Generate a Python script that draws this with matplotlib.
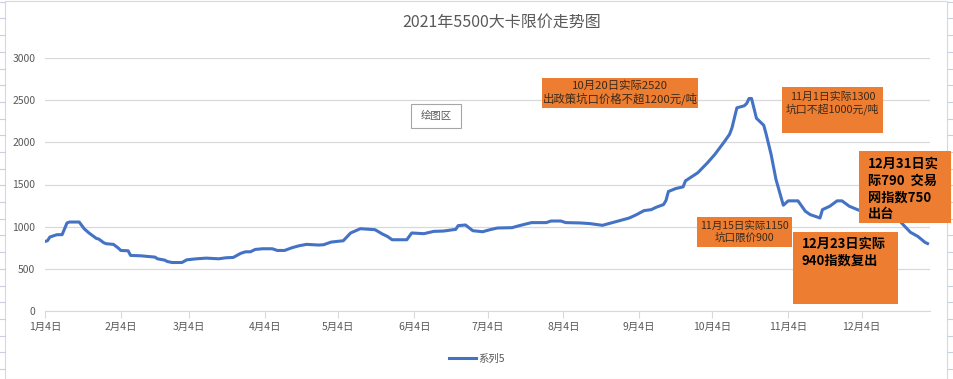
import matplotlib
matplotlib.use("Agg")
import matplotlib.pyplot as plt
from matplotlib.patches import Rectangle
from matplotlib.lines import Line2D
import pandas as pd

plt.rcParams['font.family'] = ['Noto Sans CJK SC', 'DejaVu Sans']

# price series
dates = ["01-04", "01-05", "01-06", "01-08", "01-09", "01-11", "01-13", "01-14", "01-18", "01-20",
         "01-22", "01-25", "01-26", "01-28", "01-29", "02-01", "02-03", "02-04", "02-07", "02-08",
         "02-12", "02-18", "02-19", "02-22", "02-23", "02-25", "03-01", "03-03", "03-07", "03-11",
         "03-16", "03-19", "03-22", "03-25", "03-27", "03-29", "03-31", "04-03", "04-07", "04-09",
         "04-12", "04-15", "04-18", "04-21", "04-26", "04-28", "05-01", "05-06", "05-09", "05-13",
         "05-19", "05-22", "05-24", "05-26", "06-01", "06-03", "06-08", "06-12", "06-16", "06-21",
         "06-22", "06-25", "06-28", "07-02", "07-05", "07-08", "07-14", "07-17", "07-22", "07-28",
         "07-30", "08-03", "08-05", "08-11", "08-15", "08-20", "08-26", "08-31", "09-03", "09-06",
         "09-09", "09-11", "09-14", "09-15", "09-16", "09-19", "09-22", "09-23", "09-28", "10-02",
         "10-05", "10-09", "10-11", "10-12", "10-14", "10-17", "10-18", "10-19", "10-20", "10-22",
         "10-25", "10-26", "10-28", "10-30", "11-02", "11-04", "11-08", "11-11", "11-13", "11-17",
         "11-18", "11-21", "11-24", "11-26", "11-29", "12-03", "12-12", "12-18", "12-20", "12-24",
         "12-27", "12-30", "12-31"]
prices = [825, 833, 877, 897, 905, 905, 1044, 1055, 1055, 976,
          925, 861, 853, 810, 798, 790, 746, 718, 714, 659,
          655, 639, 619, 603, 587, 575, 575, 607, 619, 627,
          619, 631, 635, 683, 702, 702, 730, 738, 738, 718,
          718, 750, 774, 790, 782, 786, 817, 833, 925, 976,
          964, 913, 885, 845, 845, 925, 917, 944, 948, 968,
          1012, 1020, 952, 940, 964, 984, 988, 1012, 1048, 1048,
          1067, 1067, 1048, 1044, 1036, 1016, 1063, 1103, 1143, 1190,
          1202, 1230, 1262, 1310, 1417, 1452, 1472, 1544, 1639, 1758,
          1857, 2012, 2095, 2171, 2409, 2433, 2460, 2520, 2520, 2286,
          2202, 2095, 1857, 1560, 1254, 1306, 1306, 1183, 1143, 1103,
          1202, 1242, 1306, 1306, 1242, 1194, 1162, 1110, 1055, 933,
          885, 813, 800]
series_name = "系列5"
title = "2021年5500大卡限价走势图"
tick_months = list(range(1, 13))

notes_small = ["10月20日实际2520\n出政策坑口价格不超1200元/吨",
               "11月1日实际1300\n坑口不超1000元/吨",
               "11月15日实际1150\n坑口限价900"]
notes_bold = ["12月31日实\n际790  交易\n网指数750\n出台",
              "12月23日实际\n940指数复出"]

W, H = 954, 379
x = pd.to_datetime(["2021-" + d for d in dates])

fig = plt.figure(figsize=(W / 100, H / 100), dpi=100)


def fx(px):
    return px / W


def fy(py):
    return 1 - py / H


# spreadsheet cells around the chart object
for yy in [1.7 + 16.7 * k for k in range(23)]:
    fig.add_artist(Line2D([0, fx(5)], [fy(yy), fy(yy)], color='#c9d0de', lw=0.8))
    fig.add_artist(Line2D([fx(948), 1], [fy(yy), fy(yy)], color='#c9d0de', lw=0.8))
fig.add_artist(Rectangle((fx(5), 0), fx(947) - fx(5), fy(1), transform=fig.transFigure,
                         facecolor='white', edgecolor='#d9d9d9', lw=0.8, zorder=0))

ax = fig.add_axes([fx(45), fy(311), fx(930) - fx(45), (311 - 58) / H])
ax.set_facecolor('none')
ax.plot(x, prices, color='#4472c4', lw=2.2, label=series_name, solid_joinstyle='round', zorder=3)

ax.set_ylim(0, 3000)
ax.set_yticks(range(0, 3001, 500))
ax.set_xlim(pd.Timestamp("2021-01-04"), pd.Timestamp("2022-01-01"))
ax.set_xticks([pd.Timestamp(2021, m, 4) for m in tick_months])
ax.set_xticklabels([f"{m}月4日" for m in tick_months])
ax.grid(axis='y', color='#d9d9d9', lw=0.9)
ax.set_axisbelow(True)
for s in ['top', 'right', 'left']:
    ax.spines[s].set_visible(False)
ax.spines['bottom'].set_color('#d9d9d9')
ax.tick_params(axis='y', length=0, labelsize=7.5, labelcolor='#595959', pad=7)
ax.tick_params(axis='x', length=5, color='#d9d9d9', labelsize=7.5, labelcolor='#595959', pad=3)

fig.text(fx(502), fy(22), title, ha='center', va='center', fontsize=11.5, color='#595959')

fig.legend(loc='center', bbox_to_anchor=(fx(477), fy(359)), frameon=False, fontsize=7.5,
           handlelength=2.6, handletextpad=0.2, labelcolor='#595959')

# "plot area" hover tag
fig.add_artist(Rectangle((fx(411), fy(128)), fx(50), 24 / H, transform=fig.transFigure,
                         facecolor='white', edgecolor='#a6a6a6', lw=0.8, zorder=5))
fig.text(fx(436), fy(116), "绘图区", ha='center', va='center', fontsize=7.5, color='#595959', zorder=6)

orange = '#ed7d31'
# small notes: (left, top, right, bottom, text y, font size)
small_boxes = [(542, 78, 698, 108, 93, 8.2), (782, 87, 883, 133, 103, 7.8), (697, 217, 792, 247, 232, 7.6)]
for (l, t, r, b, ty, fs), txt in zip(small_boxes, notes_small):
    fig.add_artist(Rectangle((fx(l), fy(b)), fx(r - l), (b - t) / H, transform=fig.transFigure,
                             facecolor=orange, edgecolor='none', zorder=5))
    fig.text(fx((l + r) / 2), fy(ty), txt, ha='center', va='center', fontsize=fs,
             color='#3a2a1a', linespacing=1.15, zorder=6)

bold_boxes = [(859, 151, 951, 223, 868, 157), (793, 232, 898, 304, 802, 237)]
for (l, t, r, b, tx, ty), txt in zip(bold_boxes, notes_bold):
    fig.add_artist(Rectangle((fx(l), fy(b)), fx(r - l), (b - t) / H, transform=fig.transFigure,
                             facecolor=orange, edgecolor='none', zorder=5))
    fig.text(fx(tx), fy(ty), txt, ha='left', va='top', fontsize=9.5, fontweight='bold',
             color='black', linespacing=1.25, zorder=6)

fig.savefig("out.png", dpi=100)
